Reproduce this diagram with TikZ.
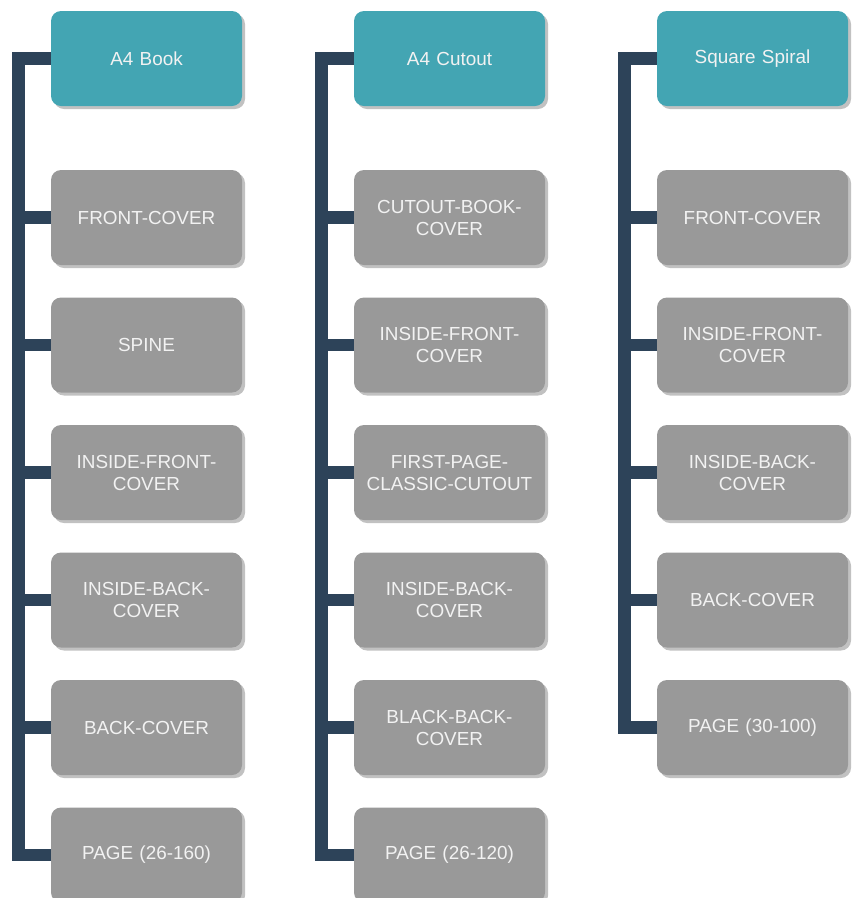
\documentclass[tikz,border=0pt]{standalone}
\usepackage{fontspec}
\setmainfont{Liberation Sans}
\usetikzlibrary{shadows,backgrounds}
\definecolor{headfill}{HTML}{43A5B3}
\definecolor{itemfill}{HTML}{999999}
\definecolor{txt}{HTML}{F2F2F2}
\definecolor{conncol}{HTML}{2D4359}
\tikzset{
  box/.style={rounded corners=10pt, minimum width=191pt, minimum height=95pt,
    text width=184pt, align=center, text=txt, inner sep=0pt,
    font=\fontsize{18.9}{22}\selectfont,
    drop shadow={shadow xshift=3pt, shadow yshift=-3pt, fill=black!30, opacity=0.8}},
  headbox/.style={box, fill=headfill},
  itembox/.style={box, fill=itemfill},
  conn/.style={draw=conncol, line width=12.5pt, line join=miter}
}
\begin{document}
\begin{tikzpicture}[x=1pt,y=1pt]
\useasboundingbox (0,0) rectangle (856,-898);
% column 1
\node[headbox] (h1) at (146.5,-58.5) {A4 Book};
\node[itembox] (a1) at (146.5,-217.5) {FRONT-COVER};
\node[itembox] (a2) at (146.5,-345) {SPINE};
\node[itembox] (a3) at (146.5,-472.5) {INSIDE-FRONT-\\COVER};
\node[itembox] (a4) at (146.5,-600) {INSIDE-BACK-\\COVER};
\node[itembox] (a5) at (146.5,-727.5) {BACK-COVER};
\node[itembox] (a6) at (146.5,-855) {PAGE (26-160)};
% column 2
\node[headbox] (h2) at (449.5,-58.5) {A4 Cutout};
\node[itembox] (b1) at (449.5,-217.5) {CUTOUT-BOOK-\\COVER};
\node[itembox] (b2) at (449.5,-345) {INSIDE-FRONT-\\COVER};
\node[itembox] (b3) at (449.5,-472.5) {FIRST-PAGE-\\CLASSIC-CUTOUT};
\node[itembox] (b4) at (449.5,-600) {INSIDE-BACK-\\COVER};
\node[itembox] (b5) at (449.5,-727.5) {BLACK-BACK-\\COVER};
\node[itembox] (b6) at (449.5,-855) {PAGE (26-120)};
% column 3
\node[headbox] (h3) at (752.5,-58.5) {Square Spiral};
\node[itembox] (c1) at (752.5,-217.5) {FRONT-COVER};
\node[itembox] (c2) at (752.5,-345) {INSIDE-FRONT-\\COVER};
\node[itembox] (c3) at (752.5,-472.5) {INSIDE-BACK-\\COVER};
\node[itembox] (c4) at (752.5,-600) {BACK-COVER};
\node[itembox] (c5) at (752.5,-727.5) {PAGE (30-100)};
\begin{scope}[on background layer]
\foreach \c in {a1,a2,a3,a4,a5,a6}
  \path[conn] (h1.west) -- ++(-32.5,0) |- (\c.west);
\foreach \c in {b1,b2,b3,b4,b5,b6}
  \path[conn] (h2.west) -- ++(-32.5,0) |- (\c.west);
\foreach \c in {c1,c2,c3,c4,c5}
  \path[conn] (h3.west) -- ++(-32.5,0) |- (\c.west);
\end{scope}
\end{tikzpicture}
\end{document}
